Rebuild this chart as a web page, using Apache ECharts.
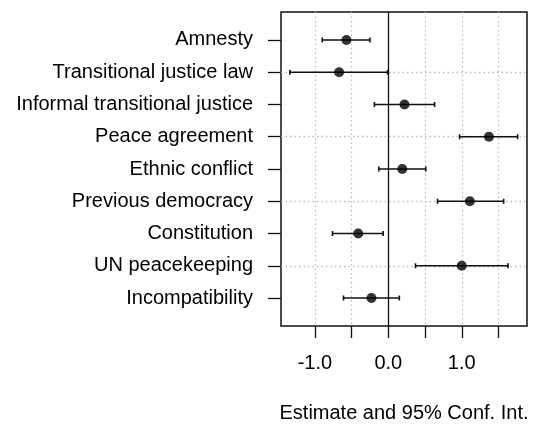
<!DOCTYPE html>
<html>
<head>
<meta charset="utf-8">
<script src="https://cdn.jsdelivr.net/npm/echarts@6/dist/echarts.min.js"></script>
<style>html,body{margin:0;padding:0;background:#fff}#c{width:539px;height:426px}</style>
</head>
<body>
<div id="c"></div>
<script>
const categories = ["Amnesty","Transitional justice law","Informal transitional justice","Peace agreement","Ethnic conflict","Previous democracy","Constitution","UN peacekeeping","Incompatibility"];
const estimate = [-0.57, -0.67, 0.22, 1.37, 0.19, 1.11, -0.41, 1.00, -0.23];
const lower    = [-0.90, -1.34, -0.19, 0.97, -0.13, 0.67, -0.76, 0.37, -0.61];
const upper    = [-0.25, -0.01, 0.63, 1.76, 0.51, 1.57, -0.07, 1.63, 0.15];
const xTicks = [-1, -0.5, 0, 0.5, 1, 1.5];
const xTickLabels = [-1, 0, 1];
const xGrid = [-1, -0.5, 0.5, 1, 1.5];
const rowGrid = [2, 4, 6, 8];
const xTitle = "Estimate and 95% Conf. Int.";

const rows = categories.map((c, i) => i + 1);
const font = "'Liberation Sans', Arial, sans-serif";
const txt = '#000';

const chart = echarts.init(document.getElementById('c'), null, {renderer: 'canvas'});
chart.setOption({
  animation: false,
  backgroundColor: '#fff',
  grid: {left: 281, top: 12, width: 246, height: 314, outerBoundsMode: 'none', containLabel: false, show: true, borderColor: '#111', borderWidth: 1.5, backgroundColor: 'transparent'},
  xAxis: {
    type: 'value', min: -1.461, max: 1.888,
    axisLine: {show: false, onZero: false},
    splitLine: {show: false},
    axisTick: {show: true, customValues: xTicks, length: 12, lineStyle: {color: '#111', width: 1.3}},
    axisLabel: {customValues: xTickLabels, formatter: v => v.toFixed(1), margin: 27, color: txt, fontSize: 20, fontFamily: font},
    name: xTitle, nameLocation: 'middle', nameGap: 87,
    nameTextStyle: {color: txt, fontSize: 20, fontFamily: font, verticalAlign: 'middle'}
  },
  yAxis: {
    type: 'value', min: 0.133, max: 9.867, inverse: true,
    axisLine: {show: false, onZero: false},
    splitLine: {show: false},
    axisTick: {show: true, customValues: rows, length: 13, lineStyle: {color: '#111', width: 1.3}},
    axisLabel: {customValues: rows, formatter: v => categories[Math.round(v) - 1] || '', margin: 28, color: txt, fontSize: 20, fontFamily: font}
  },
  series: [
    {
      type: 'line', data: [], silent: true, z: 1,
      markLine: {
        silent: true, symbol: 'none', label: {show: false}, z: 1,
        lineStyle: {type: [1.5, 3], color: '#bbb', width: 1.3},
        data: xGrid.map(v => ({xAxis: v})).concat(rowGrid.map(v => ({yAxis: v})))
      }
    },
    {
      type: 'line', data: [], silent: true, z: 2,
      markLine: {
        silent: true, symbol: 'none', label: {show: false}, z: 2,
        lineStyle: {type: 'solid', color: '#111', width: 1.3},
        data: [{xAxis: 0}]
      }
    },
    {
      type: 'custom', silent: true,
      data: rows.map((r, i) => [lower[i], upper[i], r]),
      renderItem: function (params, api) {
        const a = api.coord([api.value(0), api.value(2)]);
        const b = api.coord([api.value(1), api.value(2)]);
        const cap = 2.5;
        const st = {stroke: '#111', lineWidth: 1.6, lineDash: null};
        return {type: 'group', children: [
          {type: 'line', shape: {x1: a[0], y1: a[1], x2: b[0], y2: b[1]}, style: st},
          {type: 'line', shape: {x1: a[0], y1: a[1] - cap, x2: a[0], y2: a[1] + cap}, style: st},
          {type: 'line', shape: {x1: b[0], y1: b[1] - cap, x2: b[0], y2: b[1] + cap}, style: st}
        ]};
      },
      z: 10
    },
    {
      type: 'scatter', silent: true,
      data: rows.map((r, i) => [estimate[i], r]),
      symbol: 'circle', symbolSize: 10,
      itemStyle: {color: '#000'},
      z: 11
    }
  ]
});
</script>
</body>
</html>
